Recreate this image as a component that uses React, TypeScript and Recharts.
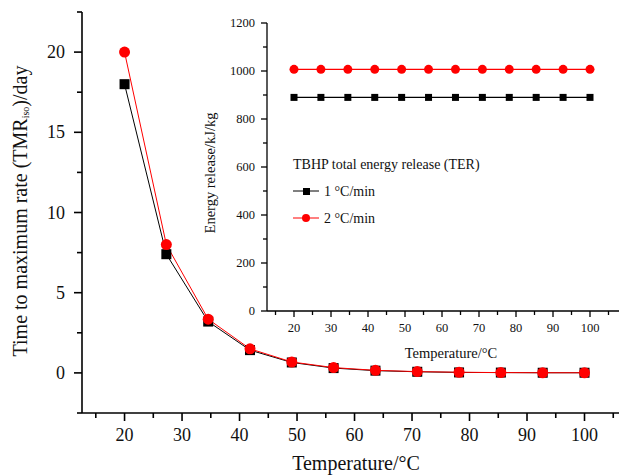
import React from "react";
import { LineChart, Line, XAxis, YAxis } from "recharts";

// temperatures (°C) of the 12 sample points
const temps = [20, 27.27, 34.55, 41.82, 49.09, 56.36, 63.64, 70.91, 78.18, 85.45, 92.73, 100];
// TMRiso (day)
const tmr1 = [18.0, 7.4, 3.2, 1.42, 0.65, 0.3, 0.14, 0.07, 0.03, 0.02, 0.01, 0.01];
const tmr2 = [20.0, 8.0, 3.35, 1.5, 0.68, 0.33, 0.16, 0.08, 0.04, 0.02, 0.01, 0.01];
// total energy release (kJ/kg)
const ter1 = [890, 890, 890, 890, 890, 890, 890, 890, 890, 890, 890, 890];
const ter2 = [1007, 1007, 1007, 1007, 1007, 1007, 1007, 1007, 1007, 1007, 1007, 1007];

const seriesNames = ["1 °C/min", "2 °C/min"];
const legendTitle = "TBHP total energy release (TER)";

// ticks (minor + major), labels only on major
const xTicks = [15, 20, 25, 30, 35, 40, 45, 50, 55, 60, 65, 70, 75, 80, 85, 90, 95, 100, 105];
const xLabels = [20, 30, 40, 50, 60, 70, 80, 90, 100];
const mainYTicks = [-2.5, 0, 2.5, 5, 7.5, 10, 12.5, 15, 17.5, 20, 22.5];
const mainYLabels = [0, 5, 10, 15, 20];
const insetYTicks = [0, 100, 200, 300, 400, 500, 600, 700, 800, 900, 1000, 1100, 1200];
const insetYLabels = [0, 200, 400, 600, 800, 1000, 1200];

const mainData = temps.map((t, i) => ({ t, a: tmr1[i], b: tmr2[i] }));
const insetData = temps.map((t, i) => ({ t, a: ter1[i], b: ter2[i] }));

const FONT = "'Liberation Serif', 'Times New Roman', serif";

const makeXTick = (labels: number[], major: number, minor: number, fs: number, gap: number, sw: number) =>
  (p: any) => {
    const isMajor = labels.includes(p.payload.value);
    return (
      <g>
        <line x1={p.x} x2={p.x} y1={p.y} y2={p.y + (isMajor ? major : minor)} stroke="#000" strokeWidth={sw} />
        {isMajor && (
          <text x={p.x} y={p.y + gap} textAnchor="middle" dominantBaseline="central" fontSize={fs} fontFamily={FONT} fill="#111">
            {p.payload.value}
          </text>
        )}
      </g>
    );
  };

const makeYTick = (labels: number[], major: number, minor: number, fs: number, gap: number, sw: number) =>
  (p: any) => {
    const isMajor = labels.includes(p.payload.value);
    return (
      <g>
        <line x1={p.x} x2={p.x - (isMajor ? major : minor)} y1={p.y} y2={p.y} stroke="#000" strokeWidth={sw} />
        {isMajor && (
          <text x={p.x - gap} y={p.y} textAnchor="end" dominantBaseline="central" fontSize={fs} fontFamily={FONT} fill="#111">
            {p.payload.value}
          </text>
        )}
      </g>
    );
  };

const square = (size: number, fill: string) => (p: any) => (
  <rect key={`s${p.index}`} x={p.cx - size / 2} y={p.cy - size / 2} width={size} height={size} fill={fill} />
);
const circle = (r: number, fill: string) => (p: any) => (
  <circle key={`c${p.index}`} cx={p.cx} cy={p.cy} r={r} fill={fill} />
);

const InsetLegend = () => (
  <svg width={220} height={80} style={{ overflow: "visible", display: "block" }}>
    <text x={0} y={10} dominantBaseline="central" fontSize={14} fontFamily={FONT} fill="#111">
      {legendTitle}
    </text>
    <line x1={0} x2={26} y1={37} y2={37} stroke="#000" strokeWidth={1} />
    <rect x={10} y={34} width={7} height={7} fill="#000" />
    <text x={31} y={37} dominantBaseline="central" fontSize={14} fontFamily={FONT} fill="#111">
      {seriesNames[0]}
    </text>
    <line x1={0} x2={26} y1={64} y2={64} stroke="#ff0000" strokeWidth={1} />
    <circle cx={13} cy={64} r={4} fill="#ff0000" />
    <text x={31} y={64} dominantBaseline="central" fontSize={14} fontFamily={FONT} fill="#111">
      {seriesNames[1]}
    </text>
  </svg>
);

export default function App() {
  return (
    <div style={{ position: "absolute", left: 0, top: 0, width: 619, height: 475, overflow: "hidden", background: "#fff" }}>
      <div style={{ position: "absolute", left: 0, top: 0 }}>
        <LineChart width={650} height={475} data={mainData} margin={{ top: 12, right: 8, bottom: 32, left: 0 }}>
          <XAxis
            dataKey="t"
            type="number"
            domain={[12.6, 110]}
            ticks={xTicks}
            interval={0}
            tickSize={0}
            tickMargin={0}
            height={30}
            axisLine={{ stroke: "#000", strokeWidth: 1.6 }}
            tickLine={false}
            tick={makeXTick(xLabels, 8, 5, 18, 22, 1.6)}
            allowDataOverflow
          />
          <YAxis
            type="number"
            domain={[-2.5, 22.5]}
            ticks={mainYTicks}
            interval={0}
            tickSize={0}
            tickMargin={0}
            width={82}
            axisLine={{ stroke: "#000", strokeWidth: 1.6 }}
            tickLine={false}
            tick={makeYTick(mainYLabels, 8, 5, 18, 17, 1.6)}
            allowDataOverflow
          />
          <Line type="linear" dataKey="a" stroke="#000" strokeWidth={1} dot={square(10, "#000")} isAnimationActive={false} />
          <Line type="linear" dataKey="b" stroke="#ff0000" strokeWidth={1} dot={circle(5.5, "#ff0000")} isAnimationActive={false} />
          <text x={356} y={463} textAnchor="middle" dominantBaseline="central" fontSize={20} fontFamily={FONT} fill="#111">
            Temperature/°C
          </text>
          <text transform="translate(20,211) rotate(-90)" textAnchor="middle" dominantBaseline="central" fontSize={20} fontFamily={FONT} fill="#111">
            Time to maximum rate (TMR
            <tspan fontSize={10} dy={5}>iso</tspan>
            <tspan dy={-5}>)/day</tspan>
          </text>
        </LineChart>
      </div>
      <div style={{ position: "absolute", left: 200, top: 0 }}>
        <LineChart width={440} height={370} data={insetData} margin={{ top: 23, right: 13, bottom: 29, left: 0 }}>
          <XAxis
            dataKey="t"
            type="number"
            domain={[12.7, 110]}
            ticks={xTicks}
            interval={0}
            tickSize={0}
            tickMargin={0}
            height={30}
            axisLine={{ stroke: "#000", strokeWidth: 1.3 }}
            tickLine={false}
            tick={makeXTick(xLabels, 6, 4, 12.5, 17, 1.3)}
            allowDataOverflow
          />
          <YAxis
            type="number"
            domain={[0, 1200]}
            ticks={insetYTicks}
            interval={0}
            tickSize={0}
            tickMargin={0}
            width={67}
            axisLine={{ stroke: "#000", strokeWidth: 1.3 }}
            tickLine={false}
            tick={makeYTick(insetYLabels, 6, 4, 12.5, 12, 1.3)}
            allowDataOverflow
          />
          <Line type="linear" dataKey="a" stroke="#000" strokeWidth={1.2} dot={square(7, "#000")} isAnimationActive={false} />
          <Line type="linear" dataKey="b" stroke="#ff0000" strokeWidth={1.2} dot={circle(4.5, "#ff0000")} isAnimationActive={false} />
          <text x={251} y={353} textAnchor="middle" dominantBaseline="central" fontSize={14.5} fontFamily={FONT} fill="#111">
            Temperature/°C
          </text>
          <text transform="translate(10,173) rotate(-90)" textAnchor="middle" dominantBaseline="central" fontSize={14.5} fontFamily={FONT} fill="#111">
            Energy release/kJ/kg
          </text>
        </LineChart>
      </div>
      <div style={{ position: "absolute", left: 293, top: 154 }}>
        <InsetLegend />
      </div>
    </div>
  );
}
